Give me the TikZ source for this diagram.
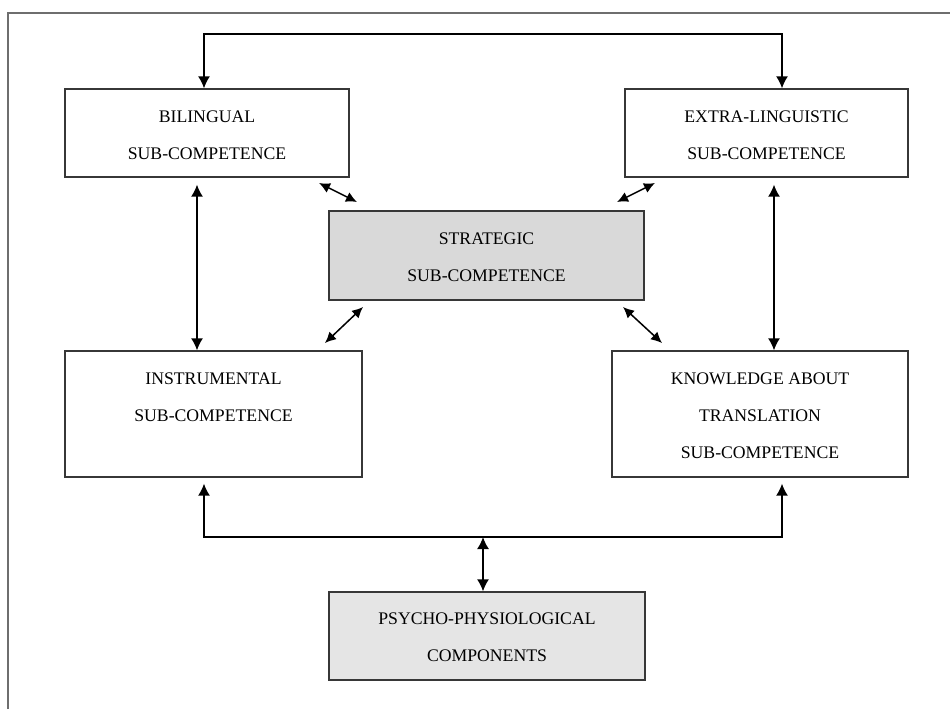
\documentclass[tikz,border=0pt]{standalone}
\usepackage{fontspec}
\setmainfont{Liberation Serif}
\usetikzlibrary{arrows.meta}
\definecolor{stratfill}{RGB}{217,217,217}
\definecolor{psyfill}{RGB}{229,229,229}
\definecolor{boxline}{RGB}{55,55,55}
\definecolor{framecol}{RGB}{110,110,110}
\begin{document}
\begin{tikzpicture}[x=1pt,y=-1pt,
  box/.style={draw=boxline,line width=1.3pt,rectangle,inner sep=0pt},
  lbl/.style={anchor=north,align=center,inner sep=0pt,text=black,
    font=\fontsize{17.7}{37}\selectfont},
  conn/.style={line width=1.5pt,draw=black},
  dbl/.style={conn,{Latex[length=12pt,width=12pt]}-{Latex[length=12pt,width=12pt]}},
  dsm/.style={conn,{Latex[length=11pt,width=10.5pt]}-{Latex[length=11pt,width=10.5pt]}}]
\useasboundingbox (0,0) rectangle (950,713);
% outer frame (partly visible)
\draw[framecol,line width=1.3pt] (8,709) -- (8,13) -- (951,13);
% boxes
\node[box,minimum width=284pt,minimum height=88pt] (bil) at (207,133) {};
\node[box,minimum width=283pt,minimum height=88pt] (ext) at (766.5,133) {};
\node[box,fill=stratfill,minimum width=315pt,minimum height=89pt] (str) at (486.5,255.5) {};
\node[box,minimum width=297pt,minimum height=126pt] (ins) at (213.5,414) {};
\node[box,minimum width=296pt,minimum height=126pt] (kno) at (760,414) {};
\node[box,fill=psyfill,minimum width=316pt,minimum height=88pt] (psy) at (487,636) {};
% labels
\node[lbl] (bilt) at ([yshift=-22pt]bil.north) {BILINGUAL\\SUB-COMPETENCE};
\node[lbl] (extt) at ([yshift=-22pt]ext.north) {EXTRA-LINGUISTIC\\SUB-COMPETENCE};
\node[lbl] (strt) at ([yshift=-22pt]str.north) {STRATEGIC\\SUB-COMPETENCE};
\node[lbl] (inst) at ([yshift=-22pt]ins.north) {INSTRUMENTAL\\SUB-COMPETENCE};
\node[lbl] (knot) at ([yshift=-22pt]kno.north) {KNOWLEDGE ABOUT\\TRANSLATION\\SUB-COMPETENCE};
\node[lbl] (psyt) at ([yshift=-21pt]psy.north) {PSYCHO-PHYSIOLOGICAL\\COMPONENTS};
% helper coordinates
\coordinate (tl) at (204,34);
\coordinate (tr) at (782,34);
\coordinate (bl) at (204,537);
\coordinate (br) at (782,537);
\coordinate (bm) at (483,537);
\coordinate (xa) at (197,0);
\coordinate (xb) at (774,0);
\coordinate (d1a) at (319,183); \coordinate (d1b) at (357,202);
\coordinate (d2a) at (655,183); \coordinate (d2b) at (617,202);
\coordinate (d3a) at (363,307); \coordinate (d3b) at (325,343);
\coordinate (d4a) at (623,307); \coordinate (d4b) at (662,343);
% top connector
\draw[dbl] (bil.north -| tl) -- (tl) -- (tr) -- (ext.north -| tr);
% verticals
\draw[dbl] ([yshift=-7pt]bil.south -| xa) -- (ins.north -| xa);
\draw[dbl] ([yshift=-7pt]ext.south -| xb) -- (kno.north -| xb);
% diagonals
\draw[dsm] (d1a) -- (d1b);
\draw[dsm] (d2a) -- (d2b);
\draw[dsm] (d3a) -- (d3b);
\draw[dsm] (d4a) -- (d4b);
% bottom connector
\draw[dbl] ([yshift=-6pt]ins.south -| bl) -- (bl) -- (br) -- ([yshift=-6pt]kno.south -| br);
\draw[dbl] (bm) -- (psy.north -| bm);
\end{tikzpicture}
\end{document}
